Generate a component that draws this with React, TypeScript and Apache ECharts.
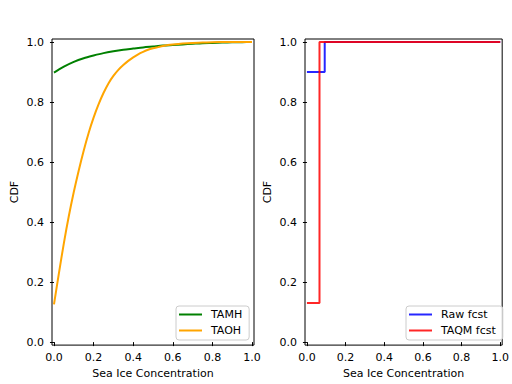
import React, { useEffect, useRef } from "react";
import * as echarts from "echarts";

const tickValues = [0, 0.2, 0.4, 0.6, 0.8, 1.0];

const tamhX = [0, 0.05, 0.1, 0.15, 0.2, 0.25, 0.3, 0.35, 0.4, 0.45, 0.5, 0.55, 0.6, 0.65, 0.7, 0.75, 0.8, 0.85, 0.9, 0.95, 1.0];
const tamhY = [0.898, 0.918, 0.934, 0.946, 0.955, 0.963, 0.969, 0.974, 0.978, 0.982, 0.985, 0.988, 0.99, 0.992, 0.994, 0.996, 0.997, 0.998, 0.999, 0.9995, 1.0];

const taohX = [0, 0.025, 0.05, 0.075, 0.1, 0.125, 0.15, 0.175, 0.2, 0.225, 0.25, 0.275, 0.3, 0.325, 0.35, 0.375, 0.4, 0.425, 0.45, 0.475, 0.5, 0.525, 0.55, 0.575, 0.6, 0.65, 0.7, 0.75, 0.8, 0.85, 0.9, 0.95, 1.0];
const taohY = [0.126, 0.23, 0.33, 0.42, 0.5, 0.572, 0.638, 0.697, 0.748, 0.792, 0.83, 0.862, 0.887, 0.907, 0.923, 0.937, 0.949, 0.959, 0.967, 0.974, 0.979, 0.983, 0.987, 0.99, 0.992, 0.995, 0.997, 0.998, 0.9993, 0.9997, 1.0, 1.0, 1.0];

const rawX = [0, 0.092, 1.0];
const rawY = [0.9, 1.0, 1.0];

const taqmX = [0, 0.065, 1.0];
const taqmY = [0.13, 1.0, 1.0];

const zip = (xs: number[], ys: number[]) => xs.map((x, i) => [x, ys[i]]);

const FONT = "DejaVu Sans";

function makeXAxis(gridIndex: number) {
  return {
    type: "value",
    gridIndex,
    min: -0.01,
    max: 1.01,
    name: "Sea Ice Concentration",
    nameLocation: "middle",
    nameGap: 20,
    nameTextStyle: { color: "#000", fontFamily: FONT, fontSize: 11 },
    axisLine: { show: false },
    splitLine: { show: false },
    axisTick: { show: true, length: 4, customValues: tickValues, lineStyle: { color: "#000", width: 1 } },
    axisLabel: {
      customValues: tickValues,
      margin: 7,
      color: "#000",
      fontFamily: FONT,
      fontSize: 11,
      formatter: (v: number) => v.toFixed(1),
    },
  };
}

function makeYAxis(gridIndex: number) {
  return {
    type: "value",
    gridIndex,
    min: -0.01,
    max: 1.01,
    name: "CDF",
    nameLocation: "middle",
    nameGap: 32,
    nameTextStyle: { color: "#000", fontFamily: FONT, fontSize: 11 },
    axisLine: { show: false },
    splitLine: { show: false },
    axisTick: { show: true, length: 4, customValues: tickValues, lineStyle: { color: "#000", width: 1 } },
    axisLabel: {
      customValues: tickValues,
      margin: 8,
      color: "#000",
      fontFamily: FONT,
      fontSize: 11,
      formatter: (v: number) => v.toFixed(1),
    },
  };
}

function makeLegend(names: string[], left: number) {
  return {
    data: names,
    orient: "vertical",
    left,
    top: 306,
    icon: "rect",
    itemWidth: 23,
    itemHeight: 2,
    itemGap: 3,
    padding: [2, 7, 3, 3],
    backgroundColor: "rgba(255,255,255,0.8)",
    borderColor: "#cccccc",
    borderWidth: 1,
    borderRadius: 3,
    textStyle: { color: "#000", fontFamily: FONT, fontSize: 11, lineHeight: 13, padding: [0, 0, 0, 4] },
  };
}

export default function App() {
  const ref = useRef<HTMLDivElement>(null);
  useEffect(() => {
    if (!ref.current) return;
    const chart = echarts.init(ref.current, null, { renderer: "svg" });
    chart.setOption({
      animation: false,
      backgroundColor: "#ffffff",
      grid: [
        { left: 52, top: 39, width: 202, height: 307, show: true, borderColor: "#000", borderWidth: 1, backgroundColor: "transparent" },
        { left: 305, top: 39, width: 202, height: 307, show: true, borderColor: "#000", borderWidth: 1, backgroundColor: "transparent" },
      ],
      xAxis: [makeXAxis(0), makeXAxis(1)],
      yAxis: [makeYAxis(0), makeYAxis(1)],
      legend: [makeLegend(["TAMH", "TAOH"], 176), makeLegend(["Raw fcst", "TAQM fcst"], 406)],
      series: [
        {
          name: "TAMH",
          type: "line",
          xAxisIndex: 0,
          yAxisIndex: 0,
          data: zip(tamhX, tamhY),
          symbol: "none",
          smooth: 0.3,
          color: "#008000",
          lineStyle: { color: "#008000", width: 2 },
          z: 2,
        },
        {
          name: "TAOH",
          type: "line",
          xAxisIndex: 0,
          yAxisIndex: 0,
          data: zip(taohX, taohY),
          symbol: "none",
          smooth: 0.3,
          color: "#FFA500",
          lineStyle: { color: "#FFA500", width: 2 },
          z: 3,
        },
        {
          name: "Raw fcst",
          type: "line",
          xAxisIndex: 1,
          yAxisIndex: 1,
          data: zip(rawX, rawY),
          step: "end",
          symbol: "none",
          color: "#0000FF",
          itemStyle: { color: "#0000FF", opacity: 0.85 },
          lineStyle: { color: "#0000FF", width: 2, opacity: 0.85 },
          z: 2,
        },
        {
          name: "TAQM fcst",
          type: "line",
          xAxisIndex: 1,
          yAxisIndex: 1,
          data: zip(taqmX, taqmY),
          step: "end",
          symbol: "none",
          color: "#FF0000",
          itemStyle: { color: "#FF0000", opacity: 0.85 },
          lineStyle: { color: "#FF0000", width: 2, opacity: 0.85 },
          z: 3,
        },
      ],
    });
    return () => chart.dispose();
  }, []);
  return <div ref={ref} style={{ width: 512, height: 384, position: "absolute", left: 0, top: 0 }} />;
}
